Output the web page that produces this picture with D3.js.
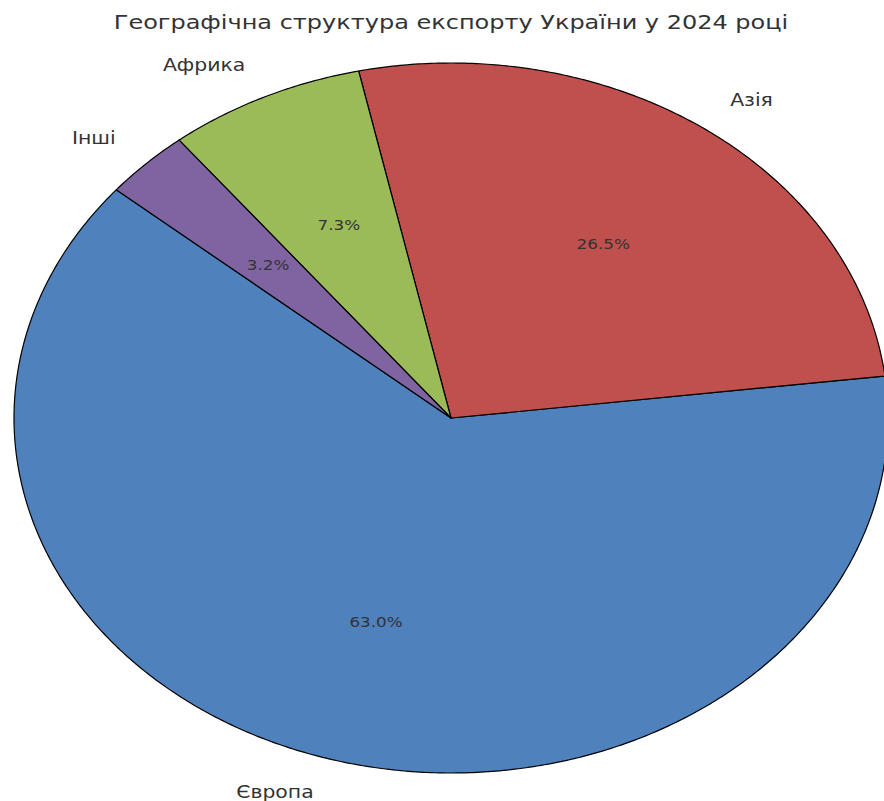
<!DOCTYPE html>
<html>
<head>
<meta charset="utf-8">
<title>Географічна структура експорту України у 2024 році</title>
<script src="https://cdn.jsdelivr.net/npm/d3@7"></script>
<style>
    body { margin: 0; background: #fff; }
    text { font-family: "DejaVu Sans", sans-serif; fill: #333; }
</style>
</head>
<body>
<div id="chart"></div>
<script>
    // дані
    var regions = ["Європа", "Азія", "Африка", "Інші"];
    var shares = [63.0, 26.5, 7.3, 3.2];
    var colors = ["#4F81BD", "#C0504D", "#9BBB59", "#8064A2"];

    var width = 884, height = 801;
    var cx = 451, cy = 418, rx = 437, ry = 355;
    var startAngle = 140;   // градуси, проти годинникової стрілки, як у matplotlib
    var sx = 1.2;           // горизонтальне розтягування тексту

    var svg = d3.select("#chart").append("svg")
        .attr("width", width)
        .attr("height", height);

    // pie у одиничному колі, потім еліптичне масштабування
    var pie = d3.pie().sort(null).value(function(d) { return d; })
        .startAngle(0).endAngle(2 * Math.PI);
    var arcs = pie(shares);

    // matplotlib кут (CCW від осі x) -> точка еліпса
    function pt(deg, k) {
        var a = deg * Math.PI / 180;
        return [cx + k * rx * Math.cos(a), cy - k * ry * Math.sin(a)];
    }
    function mplAngle(d3a) { return startAngle + d3a * 180 / Math.PI; }

    var g = svg.append("g");

    arcs.forEach(function(a, i) {
        var a0 = mplAngle(a.startAngle), a1 = mplAngle(a.endAngle);
        var n = Math.max(8, Math.ceil((a1 - a0) * 2));
        var pts = [[cx, cy]];
        for (var j = 0; j <= n; j++) pts.push(pt(a0 + (a1 - a0) * j / n, 1));
        g.append("path")
            .attr("d", d3.line()(pts) + "Z")
            .attr("fill", colors[i])
            .attr("stroke", "#000")
            .attr("stroke-width", 1.2)
            .attr("stroke-linejoin", "round");
    });

    arcs.forEach(function(a, i) {
        var mid = (mplAngle(a.startAngle) + mplAngle(a.endAngle)) / 2;
        var c = Math.cos(mid * Math.PI / 180);
        var lp = pt(mid, 1.1);
        svg.append("text")
            .attr("transform", "translate(" + lp[0] + "," + lp[1] + ") scale(" + sx + ",1)")
            .attr("text-anchor", c < 0 ? "end" : "start")
            .attr("dominant-baseline", "central")
            .style("font-size", "17px")
            .text(regions[i]);
        var pp = pt(mid, 0.6);
        svg.append("text")
            .attr("transform", "translate(" + pp[0] + "," + pp[1] + ") scale(" + sx + ",1)")
            .attr("text-anchor", "middle")
            .attr("dominant-baseline", "central")
            .style("font-size", "14px")
            .text(d3.format(".1f")(a.data) + "%");
    });

    svg.append("text")
        .attr("transform", "translate(" + cx + ",22) scale(" + sx + ",1)")
        .attr("text-anchor", "middle")
        .attr("dominant-baseline", "central")
        .style("font-size", "20px")
        .text("Географічна структура експорту України у 2024 році");
</script>
</body>
</html>
